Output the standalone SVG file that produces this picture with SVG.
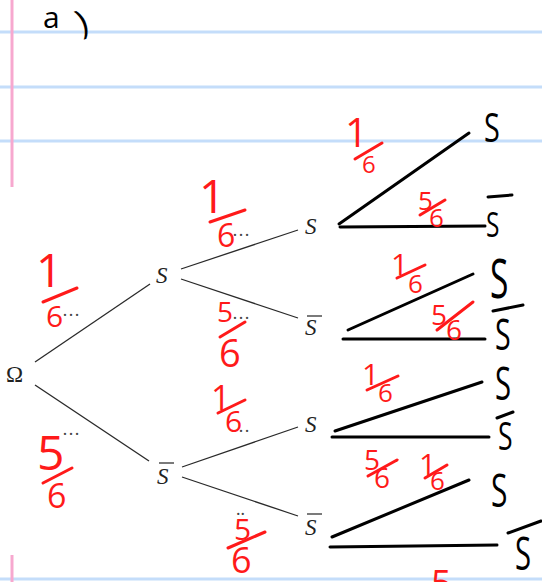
<svg xmlns="http://www.w3.org/2000/svg" width="542" height="582" viewBox="0 0 542 582">
<style>
.rule{stroke:#c4ddfa;stroke-width:3}
.margin{stroke:#f7a8cf;stroke-width:3}
.edge{stroke:#2a2a2a;stroke-width:1.3;fill:none}
.ink{stroke:#000;stroke-width:3;stroke-linecap:round;fill:none}
.lbl{font-family:"Liberation Serif",serif;font-size:23px;fill:#222}
.it{font-style:italic}
.dots{font-family:"Liberation Serif",serif;font-size:18px;fill:#444}
.red text{font-family:"Open Sans",sans-serif;fill:#ff1a1a}
.red line{stroke:#ff1a1a;stroke-width:3;stroke-linecap:round}
.blk text{font-family:"Open Sans",sans-serif;fill:#000}
.blk line{stroke:#000;stroke-width:3;stroke-linecap:round}
</style>
<rect width="542" height="582" fill="#fff"/>
<g id="paper">
<line class="rule" x1="0" y1="32" x2="542" y2="32"/>
<line class="rule" x1="0" y1="87" x2="542" y2="87"/>
<line class="rule" x1="0" y1="141" x2="542" y2="141"/>
<line class="rule" x1="0" y1="579" x2="542" y2="579"/>
<line class="margin" x1="12" y1="0" x2="12" y2="187"/>
<line class="margin" x1="12" y1="555" x2="12" y2="582"/>
</g>
<g id="title" class="blk">
<text x="43" y="28" font-size="30">a</text>
<text x="76" y="33" font-size="34" transform="rotate(-20 84 20)">)</text>
</g>
<g id="connectors">
<line class="edge" x1="35" y1="362" x2="150" y2="284"/>
<line class="edge" x1="35" y1="385" x2="149" y2="461"/>
<line class="edge" x1="181" y1="269" x2="298" y2="230"/>
<line class="edge" x1="181" y1="279" x2="298" y2="318"/>
<line class="edge" x1="182" y1="467" x2="298" y2="427"/>
<line class="edge" x1="182" y1="477" x2="298" y2="516"/>
<line class="ink" x1="339" y1="224" x2="469" y2="133"/>
<line class="ink" x1="340" y1="227" x2="485" y2="226"/>
<line class="ink" x1="348" y1="330" x2="473" y2="274"/>
<line class="ink" x1="343" y1="339" x2="485" y2="339"/>
<line class="ink" x1="335" y1="431" x2="482" y2="382"/>
<line class="ink" x1="332" y1="437" x2="489" y2="437"/>
<line class="ink" x1="332" y1="537" x2="469" y2="480"/>
<line class="ink" x1="330" y1="547" x2="497" y2="545"/>
</g>
<g id="omega"><text class="lbl" x="6" y="382">Ω</text></g>
<g id="s1"><text class="lbl it" x="156" y="283">S</text></g>
<g id="s1bar"><text class="lbl it" x="157" y="484">S</text><line x1="159" y1="463" x2="174" y2="463" stroke="#222" stroke-width="1.2"/></g>
<g id="s2a"><text class="lbl it" x="305" y="234">S</text></g>
<g id="s2b"><text class="lbl it" x="305" y="335">S</text><line x1="307" y1="316" x2="322" y2="316" stroke="#222" stroke-width="1.2"/></g>
<g id="s2c"><text class="lbl it" x="305" y="432">S</text></g>
<g id="s2d"><text class="lbl it" x="305" y="535">S</text><line x1="307" y1="514" x2="322" y2="514" stroke="#222" stroke-width="1.2"/></g>
<g id="dots">
<text class="dots" x="62" y="316">…</text>
<text class="dots" x="232" y="236">…</text>
<text class="dots" x="232" y="319">…</text>
<text class="dots" x="62" y="435">…</text>
<text class="dots" x="232" y="432">…</text>
<text class="dots" x="236" y="515">..</text>
</g>
<g id="leaves" class="blk">
<g id="leaf1" transform="translate(484 142) scale(0.72 1)"><text font-size="40">S</text></g>
<g id="leaf2"><line x1="488" y1="197" x2="512" y2="195"/><g transform="translate(486 237) scale(0.72 1)"><text font-size="34">S</text></g></g>
<g id="leaf3" transform="translate(490 298) scale(0.62 1)"><text font-size="54">S</text></g>
<g id="leaf4"><line x1="493" y1="311" x2="523" y2="305"/><g transform="translate(495 350) scale(0.65 1)"><text font-size="44">S</text></g></g>
<g id="leaf5" transform="translate(495 400) scale(0.65 1)"><text font-size="45">S</text></g>
<g id="leaf6"><line x1="497" y1="418" x2="513" y2="412"/><g transform="translate(498 450) scale(0.7 1)"><text font-size="38">S</text></g></g>
<g id="leaf7" transform="translate(491 507) scale(0.65 1)"><text font-size="46">S</text></g>
<g id="leaf8"><line x1="508" y1="533" x2="541" y2="521"/><g transform="translate(515 570) scale(0.65 1)"><text font-size="45">S</text></g></g>
</g>
<g id="probs" class="red">
<g id="p1"><text x="36" y="287" font-size="46">1</text><line x1="43" y1="302" x2="77" y2="288"/><text x="46" y="327" font-size="30">6</text></g>
<g id="p2"><text x="37" y="470" font-size="48">5</text><line x1="43" y1="483" x2="72" y2="468"/><text x="47" y="508" font-size="34">6</text></g>
<g id="p3"><text x="199" y="213" font-size="46">1</text><line x1="210" y1="222" x2="245" y2="210"/><text x="217" y="247" font-size="32">6</text></g>
<g id="p4"><text x="217" y="322" font-size="28">5</text><line x1="220" y1="337" x2="245" y2="322"/><text x="219" y="367" font-size="38">6</text></g>
<g id="p5"><text x="211" y="410" font-size="34">1</text><line x1="218" y1="413" x2="245" y2="400"/><text x="225" y="432" font-size="30">6</text></g>
<g id="p6"><text x="234" y="540" font-size="30">5</text><line x1="228" y1="548" x2="265" y2="532"/><text x="231" y="573" font-size="36">6</text></g>
<g id="p7"><text x="345" y="147" font-size="40">1</text><line x1="355" y1="159" x2="382" y2="143"/><text x="362" y="173" font-size="24">6</text></g>
<g id="p8"><text x="418" y="210" font-size="26">5</text><line x1="420" y1="215" x2="445" y2="200"/><text x="429" y="227" font-size="26">6</text></g>
<g id="p9"><text x="391" y="275" font-size="30">1</text><line x1="397" y1="278" x2="425" y2="265"/><text x="408" y="293" font-size="26">6</text></g>
<g id="p10"><text x="431" y="325" font-size="28">5</text><line x1="437" y1="330" x2="473" y2="302"/><text x="446" y="340" font-size="28">6</text></g>
<g id="p11"><text x="362" y="385" font-size="30">1</text><line x1="367" y1="390" x2="398" y2="376"/><text x="378" y="402" font-size="26">6</text></g>
<g id="p12"><text x="364" y="470" font-size="28">5</text><line x1="368" y1="476" x2="397" y2="460"/><text x="374" y="488" font-size="28">6</text></g>
<g id="p13"><text x="419" y="475" font-size="30">1</text><line x1="425" y1="478" x2="447" y2="465"/><text x="430" y="490" font-size="26">6</text></g>
<g id="p14"><text x="431" y="596" font-size="36">5</text></g>
</g>
</svg>
